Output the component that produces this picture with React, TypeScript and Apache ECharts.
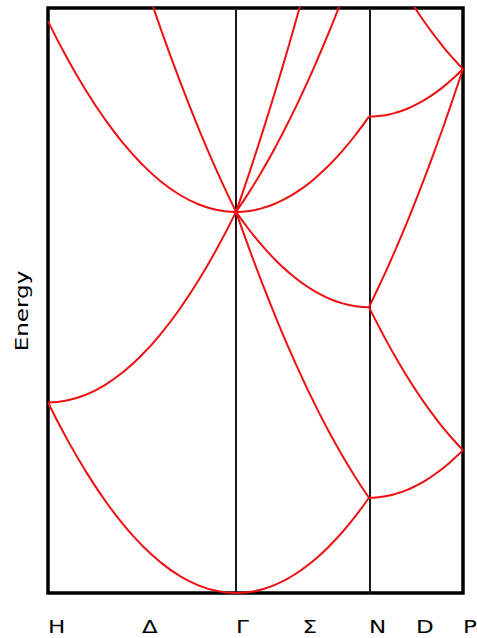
import React, { useEffect, useRef } from "react";
import * as echarts from "echarts";

// Path length along H–Γ–N–P and the energy window shown
const K_MAX = 2.2071;
const E_MAX = 3.07;

// High-symmetry points and the lines through them
const POINT_NAMES = ["H", "Δ", "Γ", "Σ", "N", "D", "P"];
const POINT_POS = [0, 0.5, 1, 1.3536, 1.7071, 1.9571, 2.2071];
const SYMMETRY_LINES = [1, 1.7071];

// Sample positions along each segment
const HG_K = [0, 0.1, 0.2, 0.3, 0.4, 0.5, 0.6, 0.7, 0.8, 0.9, 1];
const GN_K = [1, 1.0707, 1.1414, 1.2121, 1.2828, 1.3536, 1.4243, 1.495, 1.5657, 1.6364, 1.7071];
const NP_K = [1.7071, 1.7571, 1.8071, 1.8571, 1.9071, 1.9571, 2.0071, 2.0571, 2.1071, 2.1571, 2.2071];

// H → Γ
const HG_1 = [1, 0.81, 0.64, 0.49, 0.36, 0.25, 0.16, 0.09, 0.04, 0.01, 0];
const HG_2 = [1, 1.01, 1.04, 1.09, 1.16, 1.25, 1.36, 1.49, 1.64, 1.81, 2];
const HG_3 = [3, 2.81, 2.64, 2.49, 2.36, 2.25, 2.16, 2.09, 2.04, 2.01, 2];
const HG_4 = [null, null, null, null, null, 3.25, 2.96, 2.69, 2.44, 2.21, 2];

// Γ → N
const GN_1 = [0, 0.005, 0.02, 0.045, 0.08, 0.125, 0.18, 0.245, 0.32, 0.405, 0.5];
const GN_2 = [2, 1.805, 1.62, 1.445, 1.28, 1.125, 0.98, 0.845, 0.72, 0.605, 0.5];
const GN_3 = [2, 1.905, 1.82, 1.745, 1.68, 1.625, 1.58, 1.545, 1.52, 1.505, 1.5];
const GN_4 = [2, 2.005, 2.02, 2.045, 2.08, 2.125, 2.18, 2.245, 2.32, 2.405, 2.5];
const GN_5 = [2, 2.105, 2.22, 2.345, 2.48, 2.625, 2.78, 2.945, 3.12, null, null];
const GN_6 = [2, 2.205, 2.42, 2.645, 2.88, 3.125, null, null, null, null, null];

// N → P
const NP_1 = [0.5, 0.503, 0.51, 0.523, 0.54, 0.563, 0.59, 0.623, 0.66, 0.703, 0.75];
const NP_2 = [1.5, 1.403, 1.31, 1.223, 1.14, 1.063, 0.99, 0.923, 0.86, 0.803, 0.75];
const NP_3 = [1.5, 1.603, 1.71, 1.823, 1.94, 2.063, 2.19, 2.323, 2.46, 2.603, 2.75];
const NP_4 = [2.5, 2.503, 2.51, 2.523, 2.54, 2.563, 2.59, 2.623, 2.66, 2.703, 2.75];
const NP_5 = [null, null, null, null, 3.14, 3.063, 2.99, 2.923, 2.86, 2.803, 2.75];

const BANDS: [number[], (number | null)[]][] = [
  [HG_K, HG_1], [HG_K, HG_2], [HG_K, HG_3], [HG_K, HG_4],
  [GN_K, GN_1], [GN_K, GN_2], [GN_K, GN_3], [GN_K, GN_4], [GN_K, GN_5], [GN_K, GN_6],
  [NP_K, NP_1], [NP_K, NP_2], [NP_K, NP_3], [NP_K, NP_4], [NP_K, NP_5],
];

const RED = "#ee1111";
const FONT = "DejaVu Sans";
const STRETCH = 1.28;

export default function App() {
  const ref = useRef<HTMLDivElement>(null);

  useEffect(() => {
    if (!ref.current) return;
    const chart = echarts.init(ref.current, undefined, { renderer: "svg" });

    const series: any[] = BANDS.map(([ks, es], i) => ({
      type: "line",
      data: ks.map((k, j) => [k, es[j]]),
      showSymbol: false,
      smooth: 0.5,
      clip: true,
      lineStyle: { color: RED, width: 2 },
      silent: true,
      z: 3,
      ...(i === 0
        ? {
            markLine: {
              silent: true,
              symbol: ["none", "none"],
              label: { show: false },
              lineStyle: { color: "#1a1a1a", width: 2, type: "solid" },
              data: SYMMETRY_LINES.map((x) => ({ xAxis: x })),
              z: 2,
            },
          }
        : {}),
    }));

    chart.setOption({
      animation: false,
      backgroundColor: "#ffffff",
      grid: {
        left: 48,
        right: 14,
        top: 8,
        bottom: 45,
        show: true,
        borderColor: "#000000",
        borderWidth: 3.5,
        backgroundColor: "transparent",
      },
      xAxis: {
        type: "value",
        min: 0,
        max: K_MAX,
        axisLine: { show: false },
        axisTick: { show: false },
        axisLabel: { show: false },
        splitLine: { show: false },
      },
      yAxis: {
        type: "value",
        min: 0,
        max: E_MAX,
        axisLine: { show: false },
        axisTick: { show: false },
        axisLabel: { show: false },
        splitLine: { show: false },
      },
      series,
    });

    // k-point names placed with the x axis scale, and the energy title
    const labels: any[] = POINT_NAMES.map((name, i) => {
      const px = chart.convertToPixel({ xAxisIndex: 0 }, POINT_POS[i]) as number;
      return {
        type: "text",
        x: px,
        y: 627,
        scaleX: STRETCH,
        silent: true,
        style: {
          text: name,
          fontFamily: FONT,
          fontSize: 18,
          fill: "#000",
          textAlign: "left",
          textVerticalAlign: "middle",
        },
      };
    });
    labels.push({
      type: "text",
      x: 21.5,
      y: 311,
      rotation: Math.PI / 2,
      scaleX: STRETCH,
      silent: true,
      style: {
        text: "Energy",
        fontFamily: FONT,
        fontSize: 18,
        fill: "#000",
        textAlign: "center",
        textVerticalAlign: "middle",
      },
    });
    chart.setOption({ graphic: labels });

    return () => chart.dispose();
  }, []);

  return (
    <div
      ref={ref}
      style={{ position: "fixed", left: 0, top: 0, width: 477, height: 638 }}
    />
  );
}
